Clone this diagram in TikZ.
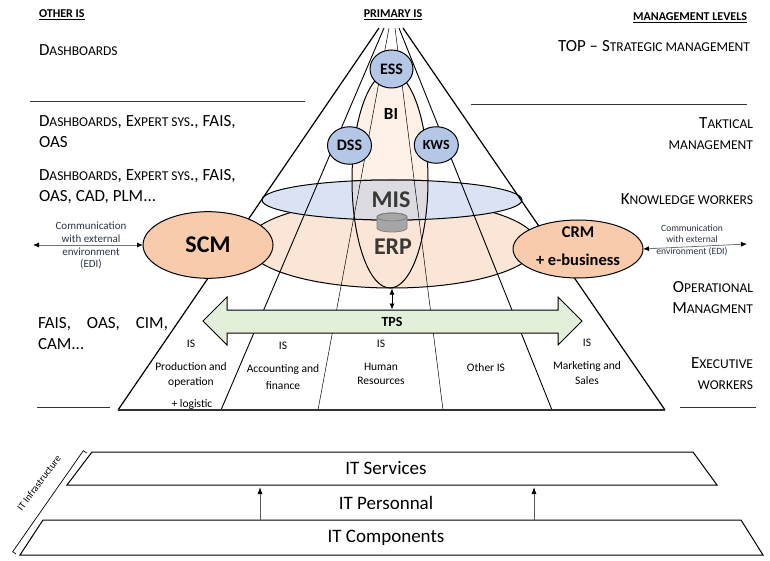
\documentclass[tikz,border=0pt]{standalone}
\usepackage{fontspec}
\setmainfont{Carlito}
\usetikzlibrary{arrows.meta,shapes.geometric,calc}
\definecolor{peach}{HTML}{F8CBAD}
\definecolor{erpfill}{HTML}{FBE5D6}
\definecolor{misfill}{HTML}{DAE3F3}
\definecolor{bluefill}{HTML}{B4C7E7}
\definecolor{bifill}{HTML}{FDF1E8}
\definecolor{tpsfill}{HTML}{E2F0D9}
\definecolor{overlapfill}{HTML}{DCDBE1}
\definecolor{darktxt}{HTML}{3B3838}
\definecolor{commtxt}{HTML}{2B3445}
\definecolor{cylfill}{HTML}{A6A6A6}
\definecolor{cyledge}{HTML}{7F7F7F}
\newcommand\smc[1]{{\fontsize{13.5}{16}\selectfont #1}}
\begin{document}
\begin{tikzpicture}[x=1pt,y=-1pt,
  txt/.style={inner sep=0pt,outer sep=0pt},
  side/.style={txt,font=\fontsize{17}{21}\selectfont},
  hdr/.style={txt,font=\bfseries\fontsize{12}{14}\selectfont},
  islbl/.style={txt,font=\fontsize{11.5}{15}\selectfont,align=center},
  comm/.style={txt,text=commtxt,align=center},
  outl/.style={draw=black,line width=1pt},
  blob/.style={ellipse,draw=black,line width=1pt,inner sep=0pt,outer sep=0pt},
  fanthick/.style={line width=1.2pt},
  fanmid/.style={line width=0.9pt},
  fanthin/.style={line width=0.5pt},
  sepline/.style={line width=1pt,draw=black!80},
  itline/.style={line width=1pt},
  bigbold/.style={txt,font=\bfseries\fontsize{24}{26}\selectfont,text=darktxt},
]
\useasboundingbox (0,0) rectangle (770,561);

% ---------- central ellipses ----------
\path[fill=bifill] (390,180) ellipse [x radius=38, y radius=108];
\draw[outl,fill=erpfill] (392,244) ellipse [x radius=145, y radius=44];
\draw[outl,fill=misfill] (392,200) ellipse [x radius=130, y radius=20];
\begin{scope}
  \clip (390,180) ellipse [x radius=38, y radius=108];
  \fill[overlapfill] (392,200) ellipse [x radius=130, y radius=20];
  \draw[outl] (392,200) ellipse [x radius=130, y radius=20];
\end{scope}
\draw[outl] (390,180) ellipse [x radius=38, y radius=108];

% cylinder
\filldraw[fill=cylfill,draw=cyledge,line width=0.8pt] (377,217) -- (377,228)
  arc[start angle=180,end angle=0,x radius=15,y radius=4] -- (407,217)
  arc[start angle=360,end angle=180,x radius=15,y radius=4] -- cycle;
\draw[draw=cyledge,line width=0.8pt] (392,217) ellipse [x radius=15, y radius=4];

% ---------- pyramid fan ----------
\coordinate (a0) at (379,28);  \coordinate (b0) at (118,410);
\coordinate (a1) at (384,28);  \coordinate (b1) at (221,410);
\coordinate (a2) at (389,28);  \coordinate (b2) at (318,410);
\coordinate (a3) at (395,28);  \coordinate (b3) at (443,410);
\coordinate (a4) at (399,28);  \coordinate (b4) at (552,410);
\coordinate (a5) at (403,28);  \coordinate (b5) at (665,410);
\draw[fanthick] (a0) -- (b0);
\draw[fanmid] (a1) -- (b1);
\draw[fanthin] (a2) -- (b2);
\draw[fanthin] (a3) -- (b3);
\draw[fanmid] (a4) -- (b4);
\draw[fanthick] (a5) -- (b5);
\draw[line width=1.4pt,draw=black!80] (b0) -- (b5);

% ---------- ellipse nodes ----------
\node[blob,fill=bluefill,minimum width=43,minimum height=38,font=\bfseries\fontsize{16}{18}\selectfont] (ess) at (391.5,69) {ESS};
\node[blob,fill=bluefill,minimum width=44,minimum height=37.5,font=\bfseries\fontsize{16}{18}\selectfont] (dss) at (349.5,145.5) {DSS};
\node[blob,fill=bluefill,minimum width=44,minimum height=36.5,font=\bfseries\fontsize{14}{16}\selectfont] (kws) at (436.3,145) {KWS};
\node[txt,font=\bfseries\fontsize{17}{19}\selectfont] (bi) at (391,114) {BI};
\node[blob,fill=peach,minimum width=130,minimum height=66.6,font=\bfseries\fontsize{24}{26}\selectfont] (scm) at (208,245) {SCM};
\node[blob,fill=peach,minimum width=130,minimum height=58] (crm) at (578,249) {};
\node[txt,font=\bfseries\fontsize{16.5}{28}\selectfont,align=center,anchor=base] (crmt) at (578,265.3) {CRM\\+ e-business};
\node[bigbold] (mist) at (391,200) {MIS};
\node[bigbold] (erpt) at (393,246.5) {ERP};

% ---------- TPS ----------
\path[draw=black,line width=1pt,fill=tpsfill] (203,321) -- (227,297) -- (227,310) -- (558,310) -- (558,297) -- (582,321) -- (558,345) -- (558,333) -- (227,333) -- (227,345) -- cycle;
\node[txt,font=\bfseries\fontsize{14}{16}\selectfont] (tps) at (392,321.5) {TPS};
\coordinate (erpbot) at (392,288.5);
\coordinate (tpstop) at (392,309.5);
\draw[line width=0.8pt,{Latex[length=6pt,width=5pt]}-{Latex[length=6pt,width=5pt]}] (erpbot) -- (tpstop);

% ---------- IS labels ----------
\node[islbl,anchor=base] (is1) at (191,347.7) {IS};
\node[islbl,anchor=base] (p1) at (191,385) {Production and\\operation};
\node[islbl,anchor=base] (p1b) at (192,407) {+ logistic};
\node[islbl,anchor=base] (is2) at (283,349.7) {IS};
\node[islbl,anchor=base,font=\fontsize{11.5}{17}\selectfont] (p2) at (283,389) {Accounting and\\finance};
\node[islbl,anchor=base] (is3) at (381,347.7) {IS};
\node[islbl,anchor=base,font=\fontsize{11.5}{14}\selectfont] (p3) at (381,384) {Human\\Resources};
\node[islbl,anchor=base] (p4) at (486,371) {Other IS};
\node[islbl,anchor=base] (is5) at (587,346.7) {IS};
\node[islbl,anchor=base] (p5) at (587,384) {Marketing and\\Sales};

% ---------- communication ----------
\node[comm,font=\fontsize{11}{12.8}\selectfont,anchor=base] (cl) at (91,267.9) {Communication\\with external\\environment\\(EDI)};
\node[comm,font=\fontsize{9.6}{11.7}\selectfont,anchor=base] (cr) at (692,254.4) {Communication\\with external\\environment (EDI)};
\coordinate (commL) at (33,245);
\coordinate (commR) at (747,244);
\draw[line width=0.8pt,draw=black!55,{Latex[length=6pt,width=5pt,color=black]}-{Latex[length=6pt,width=5pt,color=black]}] (commL) -- (scm.west);
\draw[line width=0.8pt,draw=black!55,{Latex[length=6pt,width=5pt,color=black]}-{Latex[length=6pt,width=5pt,color=black]}] (crm.east) -- (commR);

% ---------- headers ----------
\node[hdr,anchor=base west] (hother) at (39,18) {\underline{OTHER IS}};
\node[hdr,anchor=base] (hprim) at (393,18) {\underline{PRIMARY IS}};
\node[hdr,anchor=base east] (hmgmt) at (747,21) {\underline{MANAGEMENT LEVELS}};

% ---------- left column ----------
\node[side,anchor=base west] (l1) at (39,55.5) {D\smc{ASHBOARDS}};
\node[side,anchor=base west,align=left] (l2) at (39,147.5) {D\smc{ASHBOARDS}, E\smc{XPERT SYS}., FAIS,\\OAS};
\node[side,anchor=base west,align=left] (l3) at (39,201.5) {D\smc{ASHBOARDS}, E\smc{XPERT SYS}., FAIS,\\OAS, CAD, PLM...};
\node[side,anchor=base west,text width=130,align=left] (l4) at (38,328.5) {FAIS,\hfill OAS,\hfill CIM,\\CAM...};

% ---------- right column ----------
\node[side,anchor=base east] (r1) at (750,51.5) {TOP – S\smc{TRATEGIC MANAGEMENT}};
\node[side,anchor=base east,align=right] (r2) at (753,149.5) {T\smc{AKTICAL}\\\smc{MANAGEMENT}};
\node[side,anchor=base east] (r3) at (753,204.5) {K\smc{NOWLEDGE WORKERS}};
\node[side,anchor=base east,align=right] (r4) at (753,313.5) {O\smc{PERATIONAL}\\M\smc{ANAGMENT}};
\node[side,anchor=base east,align=right] (r5) at (753,389) {E\smc{XECUTIVE}\\\smc{WORKERS}};

% separators
\draw[sepline] (30,102) -- (305,102);
\draw[sepline] (471,105) -- (747,105);
\draw[sepline] (37,407) -- (110,407);
\draw[sepline] (680,407) -- (756,407);

% ---------- IT infrastructure ----------
\draw[itline] (92,452) -- (693,452) -- (717,485) -- (67,485) -- cycle;
\draw[itline] (43,520) -- (741,520) -- (763,555) -- (20,555) -- cycle;
\node[txt,font=\fontsize{19}{22}\selectfont,anchor=base] (its) at (386,474.5) {IT Services};
\node[txt,font=\fontsize{19}{22}\selectfont,anchor=base] (itp) at (386,509) {IT Personnal};
\node[txt,font=\fontsize{19}{22}\selectfont,anchor=base] (itc) at (386,542) {IT Components};
\coordinate (ar1s) at (260,520); \coordinate (ar1e) at (260,487);
\coordinate (ar2s) at (534,520); \coordinate (ar2e) at (534,487);
\draw[line width=0.8pt,draw=black!65,-{Latex[length=7pt,width=5pt,color=black]}] (ar1s) -- (ar1e);
\draw[line width=0.8pt,draw=black!65,-{Latex[length=7pt,width=5pt,color=black]}] (ar2s) -- (ar2e);
\coordinate (br1) at (12.7,551.7);
\coordinate (br2) at (83.3,450.7);
\draw[line width=0.7pt] ($(br1)+(3.3,2.3)$) -- (br1) -- (br2) -- ($(br2)+(3.3,2.3)$);
\node[txt,font=\fontsize{10}{12}\selectfont,rotate=53] (itinf) at (39,483) {IT Infrastructure};
\end{tikzpicture}
\end{document}
